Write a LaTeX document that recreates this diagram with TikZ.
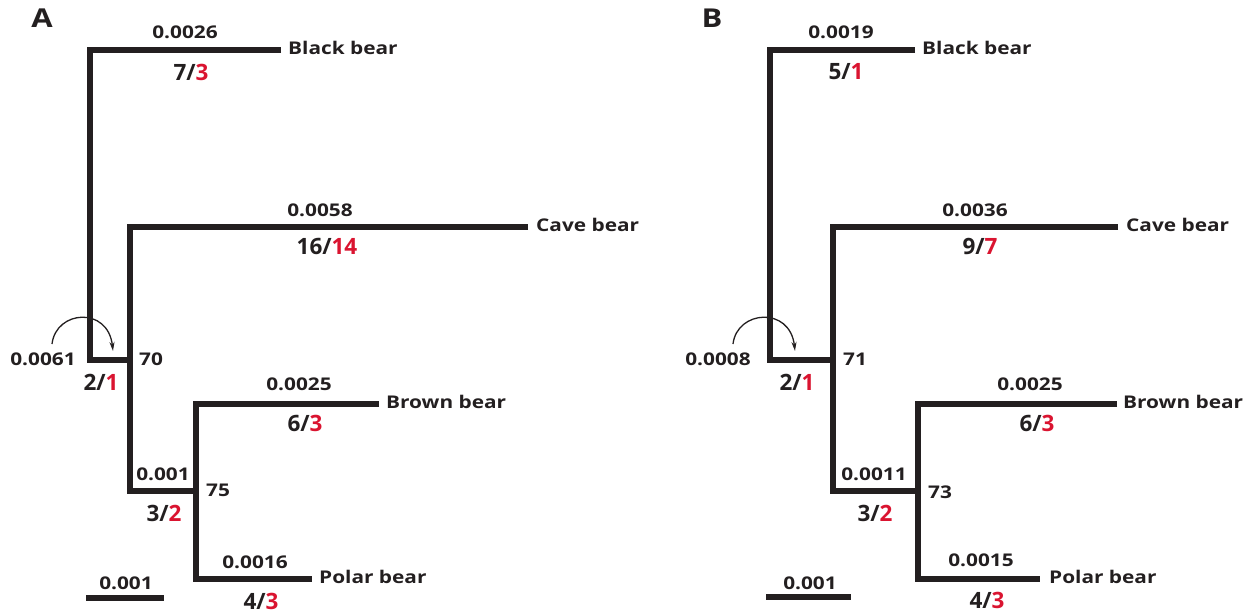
\documentclass[tikz,border=0pt]{standalone}
\usepackage{fontspec}
\setmainfont{Open Sans}
\newfontfamily\widefont{Open Sans}[FakeStretch=1.19]
\usetikzlibrary{arrows.meta}
\definecolor{ink}{RGB}{35,31,32}
\definecolor{cred}{RGB}{218,20,48}
\tikzset{
  branch/.style={draw=ink, line width=6pt, line join=miter, line cap=butt},
  lbl/.style={inner sep=0pt, text=ink, font=\widefont\bfseries\fontsize{17.5}{19}\selectfont},
  cnt/.style={inner sep=0pt, text=ink, font=\bfseries\fontsize{22.5}{24}\selectfont},
  taxon/.style={lbl, anchor=west},
  panel/.style={inner sep=0pt, text=ink, font=\widefont\bfseries\fontsize{26}{28}\selectfont},
  jump/.style={draw=ink, line width=1.3pt, -{Stealth[length=9pt,width=5pt]}}
}
\newcommand{\ct}[2]{#1/\textcolor{cred}{#2}}
\begin{document}
\begin{tikzpicture}[x=1pt,y=-1pt]
\useasboundingbox (0,0) rectangle (1254,613);

% ---------------- tree A ----------------
\node[panel] (pA) at (42,18) {A};
\coordinate (rootA) at (90,360);
\coordinate (nA1) at (130,360);
\coordinate (nA2) at (196,491);
\coordinate (blackA) at (281,50);
\coordinate (caveA) at (528,227);
\coordinate (brownA) at (379,404);
\coordinate (polarA) at (312,578.5);

\path[branch] (blackA) -| (rootA) -- (nA1);
\path[branch] (caveA) -| (nA1) |- (nA2);
\path[branch] (brownA) -| (nA2) |- (polarA);

\node[taxon] (tBlackA) at (288,48) {Black bear};
\node[taxon] (tCaveA) at (536,225) {Cave bear};
\node[taxon] (tBrownA) at (386,402) {Brown bear};
\node[taxon] (tPolarA) at (319,577) {Polar bear};

\node[lbl] (lBlackA) at (185,32) {0.0026};
\node[cnt] (cBlackA) at (191,72) {\ct{7}{3}};
\node[lbl] (lCaveA) at (320,210) {0.0058};
\node[cnt] (cCaveA) at (327,246) {\ct{16}{14}};
\node[lbl] (lRootA) at (43,359) {0.0061};
\node[cnt] (cRootA) at (101,382) {\ct{2}{1}};
\node[lbl] (bA1) at (151,359) {70};
\node[lbl] (lBrownA) at (299,384) {0.0025};
\node[cnt] (cBrownA) at (305,423) {\ct{6}{3}};
\node[lbl] (lInA) at (163,474) {0.001};
\node[lbl] (bA2) at (218,490) {75};
\node[cnt] (cInA) at (164,513) {\ct{3}{2}};
\node[lbl] (lPolarA) at (255,562) {0.0016};
\node[cnt] (cPolarA) at (261,601) {\ct{4}{3}};

\coordinate (aS) at (52,344);
\coordinate (aE) at (113,351);
\draw[jump] (aS) .. controls (56,310) and (108,306) .. (aE);

\coordinate (sA1) at (86,598);
\coordinate (sA2) at (164,598);
\path[branch] (sA1) -- (sA2);
\node[lbl] (sclA) at (126,583) {0.001};

% ---------------- tree B ----------------
\node[panel] (pB) at (712,18) {B};
\coordinate (rootB) at (770,360);
\coordinate (nB1) at (833,360);
\coordinate (nB2) at (918,491);
\coordinate (blackB) at (915,50);
\coordinate (caveB) at (1118,227);
\coordinate (brownB) at (1117,404);
\coordinate (polarB) at (1040,579);

\path[branch] (blackB) -| (rootB) -- (nB1);
\path[branch] (caveB) -| (nB1) |- (nB2);
\path[branch] (brownB) -| (nB2) |- (polarB);

\node[taxon] (tBlackB) at (922,48) {Black bear};
\node[taxon] (tCaveB) at (1126,225) {Cave bear};
\node[taxon] (tBrownB) at (1123,402) {Brown bear};
\node[taxon] (tPolarB) at (1049,577) {Polar bear};

\node[lbl] (lBlackB) at (841,32) {0.0019};
\node[cnt] (cBlackB) at (846,72) {\ct{5}{1}};
\node[lbl] (lCaveB) at (975,210) {0.0036};
\node[cnt] (cCaveB) at (980,246) {\ct{9}{7}};
\node[lbl] (lRootB) at (718,359) {0.0008};
\node[cnt] (cRootB) at (797,382) {\ct{2}{1}};
\node[lbl] (bB1) at (855,359) {71};
\node[lbl] (lBrownB) at (1030,384) {0.0025};
\node[cnt] (cBrownB) at (1037,423) {\ct{6}{3}};
\node[lbl] (lInB) at (874,474) {0.0011};
\node[lbl] (bB2) at (940,492) {73};
\node[cnt] (cInB) at (875,513) {\ct{3}{2}};
\node[lbl] (lPolarB) at (981,560) {0.0015};
\node[cnt] (cPolarB) at (987,600) {\ct{4}{3}};

\coordinate (bS) at (733,344);
\coordinate (bE) at (795,351);
\draw[jump] (bS) .. controls (737,310) and (790,306) .. (bE);

\coordinate (sB1) at (766,597);
\coordinate (sB2) at (851,597);
\path[branch] (sB1) -- (sB2);
\node[lbl] (sclB) at (810,583) {0.001};
\end{tikzpicture}
\end{document}
